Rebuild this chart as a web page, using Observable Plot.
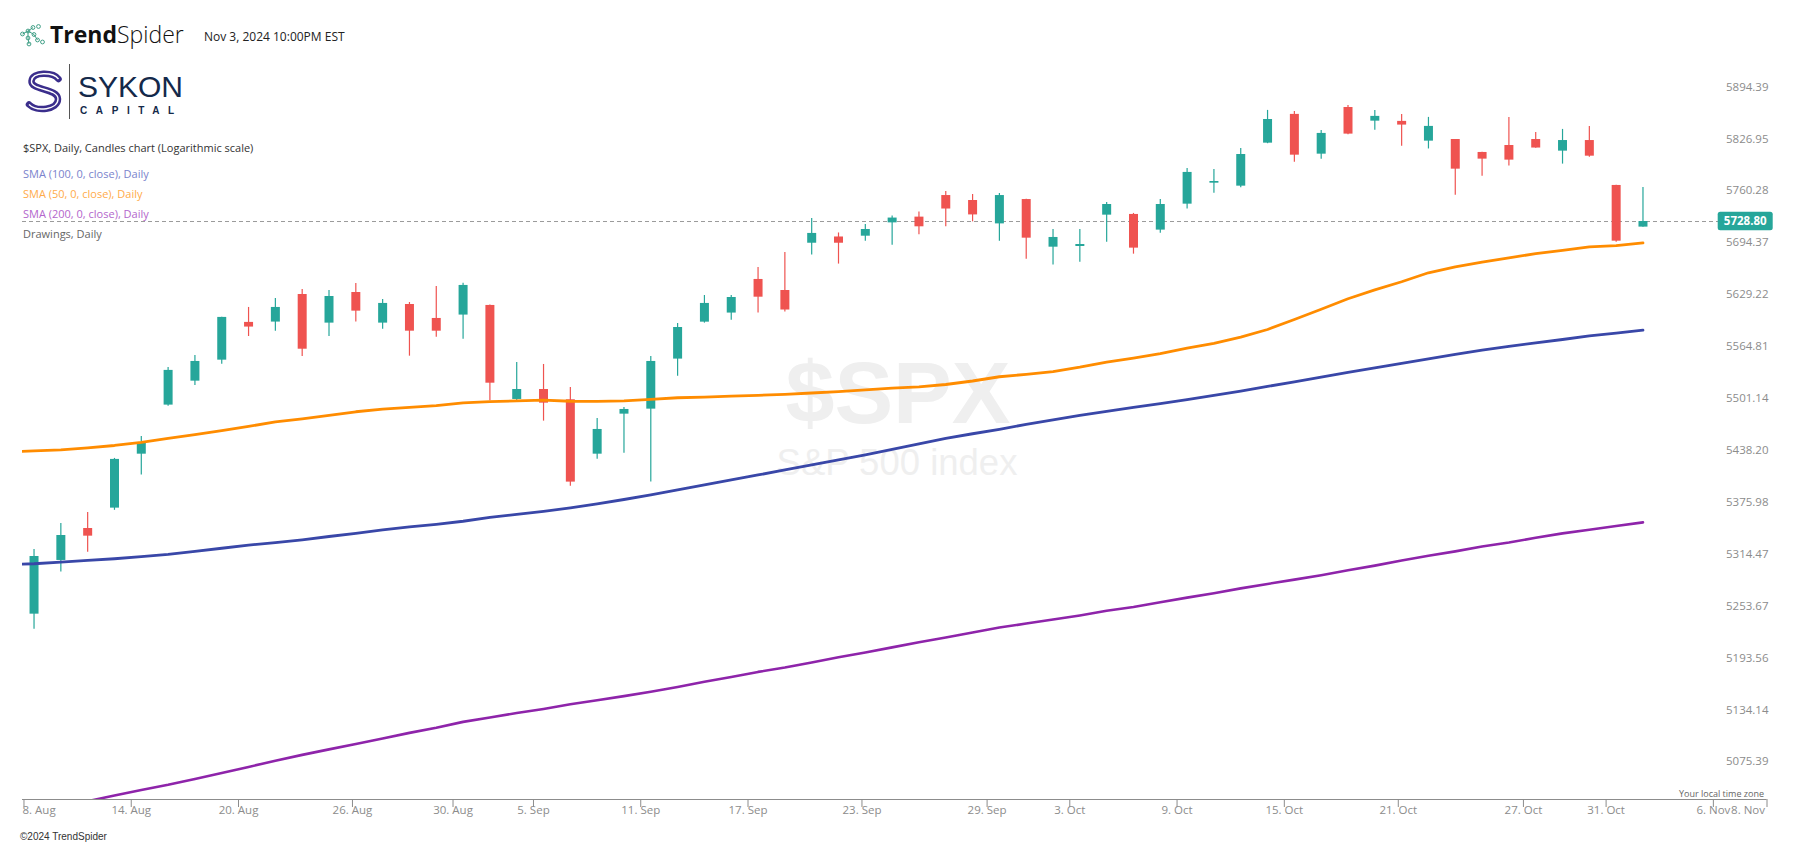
<!DOCTYPE html>
<html>
<head>
<meta charset="utf-8">
<script src="https://cdn.jsdelivr.net/npm/d3@7"></script>
<script src="https://cdn.jsdelivr.net/npm/@observablehq/plot@0.6"></script>
<style>
  html, body { margin: 0; padding: 0; background: #fff; }
  #wrap { position: relative; width: 1794px; height: 846px; overflow: hidden; font-family: "Open Sans", sans-serif; }
  #wrap > svg, #chart { position: absolute; left: 0; top: 0; }
  #chart svg { display: block; }
</style>
</head>
<body>
<div id="wrap">
  <svg id="wm" width="1794" height="846">
    <text x="898" y="422.5" text-anchor="middle" font-family="Liberation Sans, Arial, sans-serif" font-weight="700" font-size="88" fill="#efefef">$SPX</text>
    <text x="897" y="474.5" text-anchor="middle" font-family="Liberation Sans, Arial, sans-serif" font-size="36.5" fill="#efefef">S&amp;P 500 index</text>
  </svg>
  <div id="chart"></div>
  <svg id="ov" width="1794" height="846" style="pointer-events:none">
    <!-- TrendSpider icon -->
    <g stroke="#3f9f86" stroke-width="1" fill="none">
      <line x1="22.5" y1="34" x2="28" y2="31"/><line x1="28" y1="31" x2="33" y2="27.5"/>
      <line x1="28" y1="31" x2="34" y2="34.5"/><line x1="34" y1="34.5" x2="37.5" y2="40"/>
      <line x1="28" y1="31" x2="28" y2="38"/><line x1="28" y1="38" x2="29" y2="44"/>
      <circle cx="22.5" cy="34" r="1.9"/><circle cx="28" cy="31" r="1.9"/><circle cx="33" cy="27.5" r="1.9"/>
      <circle cx="38.5" cy="26.5" r="1.9"/><circle cx="34" cy="34.5" r="1.9"/><circle cx="37.5" cy="40" r="1.9"/>
      <circle cx="42.5" cy="42" r="1.9"/><circle cx="28" cy="38" r="1.9"/><circle cx="29" cy="44" r="1.9"/>
    </g>
    <text x="50" y="42.5" font-family="Open Sans, sans-serif" font-size="23" fill="#111"><tspan font-weight="700">Trend</tspan><tspan font-weight="300">Spider</tspan></text>
    <text x="204" y="40.5" font-family="Open Sans, sans-serif" font-size="12" fill="#222">Nov 3, 2024 10:00PM EST</text>
    <!-- SYKON logo -->
    <path d="M58.5 79 C53 72, 32.5 71.5, 31.5 81 C30.5 90.5, 58 88, 58 99 C58 110, 36.5 112, 29 104.5" stroke="#3b2e8c" stroke-width="6.5" fill="none" stroke-linecap="round"/>
    <path d="M58.5 79 C53 72, 32.5 71.5, 31.5 81 C30.5 90.5, 58 88, 58 99 C58 110, 36.5 112, 29 104.5" stroke="#ffffff" stroke-width="1.4" fill="none"/>
    <line x1="69.5" y1="64" x2="69.5" y2="119" stroke="#555" stroke-width="1"/>
    <text x="78" y="96.5" font-family="Liberation Sans, Arial, sans-serif" font-size="30" fill="#14294a">SYKON</text>
    <text x="80" y="113.5" font-family="Liberation Sans, Arial, sans-serif" font-size="10" font-weight="700" letter-spacing="8.6" fill="#14294a">CAPITAL</text>
    <!-- legend -->
    <g font-family="Open Sans, sans-serif" font-size="11">
      <text x="23" y="151.7" fill="#333">$SPX, Daily, Candles chart (Logarithmic scale)</text>
      <text x="23" y="178" fill="#7b83cc">SMA (100, 0, close), Daily</text>
      <text x="23" y="198" fill="#ffab4a">SMA (50, 0, close), Daily</text>
      <text x="23" y="218" fill="#b366cc">SMA (200, 0, close), Daily</text>
      <text x="23" y="238" fill="#666">Drawings, Daily</text>
    </g>
    <text x="1764" y="797" text-anchor="end" font-family="Open Sans, sans-serif" font-size="9" fill="#666">Your local time zone</text>
    <text x="20" y="840" font-family="Liberation Sans, Arial, sans-serif" font-size="10" fill="#333">©2024 TrendSpider</text>
  </svg>
</div>
<script>
// ---------- data ----------
const allDays = ["2024-08-07","2024-08-08","2024-08-09","2024-08-12","2024-08-13","2024-08-14","2024-08-15","2024-08-16","2024-08-19","2024-08-20","2024-08-21","2024-08-22","2024-08-23","2024-08-26","2024-08-27","2024-08-28","2024-08-29","2024-08-30","2024-09-03","2024-09-04","2024-09-05","2024-09-06","2024-09-09","2024-09-10","2024-09-11","2024-09-12","2024-09-13","2024-09-16","2024-09-17","2024-09-18","2024-09-19","2024-09-20","2024-09-23","2024-09-24","2024-09-25","2024-09-26","2024-09-27","2024-09-30","2024-10-01","2024-10-02","2024-10-03","2024-10-04","2024-10-07","2024-10-08","2024-10-09","2024-10-10","2024-10-11","2024-10-14","2024-10-15","2024-10-16","2024-10-17","2024-10-18","2024-10-21","2024-10-22","2024-10-23","2024-10-24","2024-10-25","2024-10-28","2024-10-29","2024-10-30","2024-10-31","2024-11-01","2024-11-04","2024-11-05","2024-11-06","2024-11-07","2024-11-08"];
const candleDays = allDays.slice(1, 62); // 8 Aug .. 1 Nov

const open  = [5251.2,5314.1,5351.9,5376.1,5440.8,5500.3,5529.6,5555.4,5602.1,5602.5,5636.9,5601.2,5639.4,5601.2,5624.4,5607.0,5611.2,5623.2,5507.2,5519.4,5506.8,5440.8,5489.3,5495.4,5556.7,5602.4,5613.7,5655.7,5641.9,5701.3,5709.2,5710.2,5727.1,5734.4,5761.9,5755.6,5725.8,5756.8,5696.3,5697.2,5736.9,5737.8,5717.9,5750.9,5777.7,5773.9,5829.2,5866.5,5815.0,5875.5,5857.7,5857.4,5831.8,5833.9,5817.2,5826.2,5833.9,5818.9,5832.6,5774.8,5721.7];
const high  = [5327.1,5357.9,5371.0,5435.7,5462.2,5546.5,5561.2,5608.6,5620.7,5631.9,5643.1,5641.9,5650.5,5630.7,5626.9,5646.8,5650.8,5623.6,5552.6,5550.1,5521.8,5484.0,5497.5,5560.0,5600.8,5635.6,5635.6,5670.8,5689.6,5732.8,5714.3,5725.1,5735.7,5740.8,5767.1,5763.2,5764.5,5757.2,5718.8,5718.8,5753.1,5739.1,5756.9,5796.6,5795.3,5822.3,5871.7,5870.4,5845.7,5878.1,5871.7,5866.5,5862.6,5834.0,5817.5,5862.6,5843.1,5847.0,5850.9,5775.2,5772.2];
const low   = [5233.8,5300.4,5323.9,5373.5,5415.6,5499.0,5524.3,5550.5,5584.6,5591.2,5560.0,5584.6,5602.5,5593.7,5560.3,5583.8,5581.3,5505.6,5506.0,5480.8,5402.3,5434.8,5442.0,5407.2,5535.7,5601.2,5604.9,5613.7,5615.0,5686.3,5675.0,5703.9,5698.8,5711.9,5722.1,5728.4,5703.9,5681.2,5673.7,5677.4,5702.6,5687.5,5713.8,5744.6,5764.9,5772.0,5828.5,5804.7,5808.6,5840.2,5846.0,5825.3,5821.7,5762.3,5786.7,5799.6,5822.5,5802.2,5811.1,5702.6,5721.5];
const close = [5318.8,5343.6,5342.8,5434.5,5454.0,5542.8,5553.8,5608.3,5596.3,5620.7,5568.9,5634.4,5616.1,5625.7,5591.2,5591.2,5648.2,5527.1,5519.4,5502.7,5407.2,5470.7,5495.0,5553.8,5595.8,5625.7,5633.1,5633.5,5617.5,5713.7,5701.3,5718.7,5733.2,5722.1,5744.7,5737.2,5761.9,5707.7,5708.6,5699.7,5750.5,5695.1,5750.5,5791.5,5779.9,5814.6,5859.9,5813.7,5841.8,5840.9,5863.9,5852.6,5850.9,5795.7,5808.6,5807.3,5822.9,5832.6,5812.4,5703.9,5728.8];

// moving averages, 7 Aug .. 1 Nov
const sma50  = [5443.5,5444.9,5446.1,5448.5,5451.3,5455.1,5459.8,5464.3,5469.4,5474.4,5479.8,5483.6,5487.7,5492.2,5495.3,5497.6,5499.6,5503.0,5504.6,5505.5,5506.3,5505.0,5504.9,5505.5,5507.2,5509.3,5510.0,5511.2,5512.3,5513.4,5515.1,5516.9,5519.0,5521.0,5522.5,5525.5,5529.8,5535.0,5538.0,5541.3,5546.7,5553.1,5558.0,5563.4,5570.2,5576.1,5583.8,5593.3,5605.7,5618.5,5631.6,5642.6,5652.8,5664.1,5671.4,5677.6,5682.9,5688.1,5692.3,5696.7,5698.2,5701.7];
const sma100 = [5309.5,5310.2,5312.1,5314.1,5316.1,5318.5,5321.2,5324.7,5328.5,5332.3,5335.1,5338.5,5342.4,5346.2,5350.2,5353.7,5356.9,5360.5,5365.0,5368.6,5372.2,5376.3,5381.1,5386.4,5391.8,5397.8,5403.8,5409.8,5415.8,5421.8,5427.8,5433.9,5439.9,5446.5,5453.1,5459.8,5465.5,5470.9,5476.8,5482.3,5487.7,5492.6,5497.5,5502.1,5507.0,5512.1,5517.4,5523.1,5528.7,5534.5,5540.3,5545.8,5551.5,5557.0,5562.4,5567.8,5572.3,5576.8,5580.9,5585.3,5588.9,5592.4];
const sma200 = [5019.2,5025.5,5031.7,5037.9,5044.3,5050.5,5056.3,5062.8,5069.4,5076.3,5083.3,5089.9,5096.1,5102.3,5108.5,5114.8,5120.6,5127.3,5132.3,5137.3,5142.0,5147.3,5152.0,5156.6,5161.6,5167.1,5173.0,5178.5,5184.4,5189.4,5195.3,5201.3,5206.7,5212.7,5218.5,5224.1,5230.0,5235.6,5240.3,5244.9,5249.7,5255.2,5259.5,5265.1,5270.5,5275.6,5281.3,5286.5,5291.6,5296.8,5302.5,5308.0,5314.1,5319.6,5324.8,5330.5,5335.2,5340.9,5346.1,5350.5,5354.8,5359.2];

const yTickValues = [5894.39,5826.95,5760.28,5694.37,5629.22,5564.81,5501.14,5438.20,5375.98,5314.47,5253.67,5193.56,5134.14,5075.39];
const tickDates = ["2024-08-08","2024-08-14","2024-08-20","2024-08-26","2024-08-30","2024-09-05","2024-09-11","2024-09-17","2024-09-23","2024-09-29","2024-10-03","2024-10-09","2024-10-15","2024-10-21","2024-10-27","2024-10-31","2024-11-06","2024-11-08"];
const lastPrice = 5728.80;
const yDomain = [5039.8, 5989.9];
const candleHour = "T09:00:00Z";

// ---------- derived ----------
const upColor = "#26a69a", downColor = "#ef5350";
const dayIndex = d => allDays.indexOf(d) - 1;
const dayTime = d => Date.parse(d + candleHour);
function datePos(s) {
  const T = Date.parse(s + "T00:00:00Z");
  for (let k = 0; k < allDays.length - 1; k++) {
    const a = dayTime(allDays[k]), b = dayTime(allDays[k + 1]);
    if (T >= a && T < b) return (k - 1) + (T - a) / (b - a);
  }
  return allDays.length - 2;
}
const fmt = d3.utcFormat("%-d. %b");
const candles = candleDays.map((d, i) => ({pos: dayIndex(d), open: open[i], high: high[i], low: low[i], close: close[i]}));
const smaRows = allDays.slice(0, sma50.length).map((d, i) => ({pos: dayIndex(d), sma50: sma50[i], sma100: sma100[i], sma200: sma200[i]}));
const ticks = tickDates.map(d => ({pos: datePos(d), label: fmt(new Date(d + "T00:00:00Z"))}));
const candleColor = d => d.close >= d.open ? upColor : downColor;
const axisColor = "#8c8c8c";

const priceTag = (index, scales, values, dims) => {
  const y = scales.y(lastPrice);
  const xr = dims.width - dims.marginRight;
  const g = d3.create("svg:g");
  g.append("rect").attr("x", xr - 48.8).attr("y", y - 9.2).attr("width", 55).attr("height", 18.4)
    .attr("rx", 2.5).attr("fill", upColor);
  g.append("text").attr("x", xr - 21.3).attr("y", y).attr("dy", "0.35em").attr("text-anchor", "middle")
    .attr("fill", "#fff").attr("font-size", 11.5).attr("font-weight", 700).text(lastPrice.toFixed(2));
  return g.node();
};

const plot = Plot.plot({
  width: 1794,
  height: 846,
  marginTop: 20,
  marginBottom: 47,
  marginLeft: 22,
  marginRight: 27.5,
  style: {background: "transparent", fontFamily: "Open Sans, sans-serif", overflow: "visible"},
  x: {type: "linear", domain: [-0.43, ticks[ticks.length - 1].pos], axis: null},
  y: {type: "log", domain: yDomain, axis: null},
  marks: [
    Plot.ruleY([lastPrice], {stroke: "#9a9a9a", strokeWidth: 1, strokeDasharray: "4,3"}),
    Plot.ruleX(candles, {x: "pos", y1: "low", y2: "high", stroke: candleColor, strokeWidth: 1.2}),
    Plot.ruleX(candles, {x: "pos", y1: "open", y2: "close", stroke: candleColor, strokeWidth: 9}),
    Plot.line(smaRows, {x: "pos", y: "sma200", stroke: "#8e24aa", strokeWidth: 2.6, clip: true}),
    Plot.line(smaRows, {x: "pos", y: "sma100", stroke: "#3947a8", strokeWidth: 2.8, clip: true}),
    Plot.line(smaRows, {x: "pos", y: "sma50", stroke: "#ff8c00", strokeWidth: 2.8, clip: true}),
    Plot.ruleY([yDomain[0]], {stroke: axisColor, strokeWidth: 1}),
    Plot.axisX(ticks.map(d => d.pos), {anchor: "bottom", tickSize: 8, tickFormat: () => "", stroke: axisColor, label: null}),
    Plot.text(ticks.slice(1, -1), {x: "pos", text: "label", frameAnchor: "bottom", dy: 14.5, fill: axisColor, fontSize: 11.5}),
    Plot.text([ticks[0]], {text: "label", frameAnchor: "bottom-left", textAnchor: "start", dy: 14.5, fill: axisColor, fontSize: 11.5}),
    Plot.text([ticks[ticks.length - 1]], {text: "label", frameAnchor: "bottom-right", textAnchor: "end", dx: -2, dy: 14.5, fill: axisColor, fontSize: 11.5}),
    Plot.text(yTickValues, {y: d => d, text: d => d.toFixed(2), frameAnchor: "right", textAnchor: "end", dx: 1.5, dy: -6, fill: axisColor, fontSize: 11.5}),
    priceTag
  ]
});
document.getElementById("chart").appendChild(plot);
</script>
</body>
</html>
